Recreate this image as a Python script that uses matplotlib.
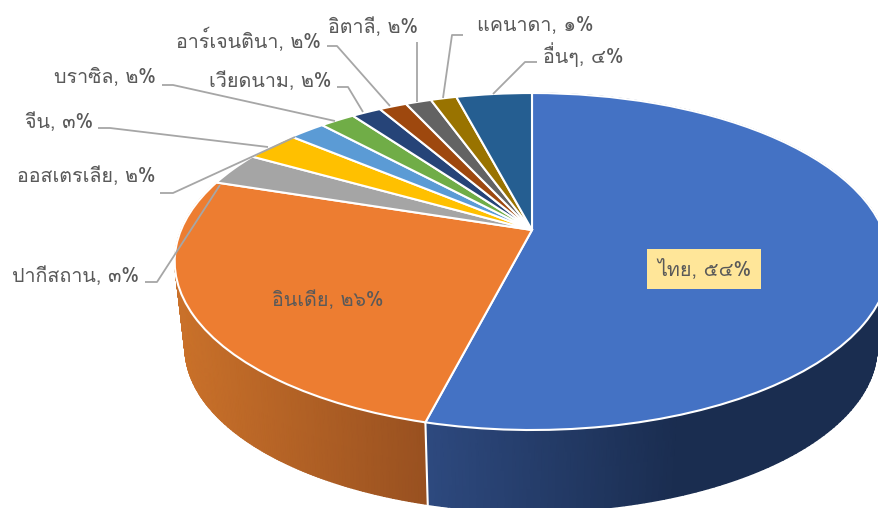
import numpy as np
import matplotlib
matplotlib.use("Agg")
import matplotlib.pyplot as plt
from matplotlib import font_manager as fm
from matplotlib.transforms import Transform
from matplotlib.colors import LinearSegmentedColormap
from matplotlib.ft2font import FT2Font

# ---- data ----
categories = ["ไทย", "อินเดีย", "ปากีสถาน", "ออสเตรเลีย", "จีน", "บราซิล",
              "เวียดนาม", "อาร์เจนตินา", "อิตาลี", "แคนาดา", "อื่นๆ"]
percent_labels = ["๕๔%", "๒๖%", "๓%", "๒%", "๓%", "๒%", "๒%", "๒%", "๒%", "๑%", "๔%"]
values = [54.0, 26.0, 3.2, 2.9, 2.0, 1.9, 1.6, 1.5, 1.4, 1.4, 4.1]
colors = ["#4472C4", "#ED7D31", "#A5A5A5", "#FFC000", "#5B9BD5", "#70AD47",
          "#264478", "#9E480E", "#636363", "#997300", "#255E91"]

# ---- find a Thai-capable font if any ----
thai_family = None
for f in fm.fontManager.ttflist:
    try:
        if 0x0E44 in FT2Font(f.fname).get_charmap():
            thai_family = f.name
            break
    except Exception:
        pass
families = ([thai_family] if thai_family else []) + ["Noto Sans", "DejaVu Sans"]
plt.rcParams["font.family"] = families

W, H = 879, 508
fig = plt.figure(figsize=(W / 100, H / 100), dpi=100)
ax = fig.add_axes([0, 0, 1, 1])


class Persp(Transform):
    """Perspective view of the unit disc, in pixel coordinates."""
    input_dims = output_dims = 2

    def __init__(self, cx, cy, rx, ry, k):
        super().__init__()
        self.p = (cx, cy, rx, ry, k)

    def transform_non_affine(self, xy):
        cx, cy, rx, ry, k = self.p
        xy = np.asarray(xy, float)
        w = 1 + k * xy[:, 1]
        return np.column_stack([cx + rx * xy[:, 0] / w, cy - ry * xy[:, 1] / w])


top = Persp(532, 230, 351, 162.6, 0.187)
bottom = Persp(531, 317, 340, 158.5, 0.187)

wedges, _ = ax.pie(values, startangle=90, counterclock=False, radius=1,
                   colors=colors,
                   wedgeprops=dict(edgecolor="white", linewidth=1.5, zorder=5))
for w in wedges:
    w.set_transform(top + ax.transData)

ax.set_aspect("auto")
ax.set_xlim(0, W)
ax.set_ylim(H, 0)
ax.axis("off")

# ---- side walls of the two large slices ----
fractions = np.cumsum([0] + values) / sum(values)
wall_cmaps = [
    LinearSegmentedColormap.from_list("b", [(0, "#2E4A80"), (0.55, "#1A2D50"), (1, "#1A2D50")]),
    LinearSegmentedColormap.from_list("o", [(0, "#CB722A"), (1, "#985020")]),
]
wall_range = [(420, 890), (175, 430)]
for i in range(2):
    t = 2 * np.pi * np.linspace(fractions[i], fractions[i + 1], 200)
    disc = np.column_stack([np.sin(t), np.cos(t)])
    a = top.transform(disc)
    b = bottom.transform(disc)
    X = np.vstack([a[:, 0], b[:, 0]])
    Y = np.vstack([a[:, 1], b[:, 1]])
    lo, hi = wall_range[i]
    ax.pcolormesh(X, Y, X, shading="gouraud", cmap=wall_cmaps[i],
                  vmin=lo, vmax=hi, zorder=2)
    if i == 0:
        # seam between the two walls
        ax.plot(X[:, -1], Y[:, -1], color="white", lw=1.5, zorder=3)

# ---- labels ----
txt = "#595959"
fs = 14.2
layout = {  # anchor x, y, ha
    0: (704, 269, "center"), 1: (328, 300, "center"),
    2: (139, 276, "right"), 3: (156, 176, "right"), 4: (93, 122, "right"),
    5: (156, 78, "right"), 6: (331, 81, "right"), 7: (321, 40, "right"),
    8: (418, 27, "right"), 9: (594, 25, "right"), 10: (624, 55, "right"),
}
leaders = {
    2: [(145, 282), (157, 282), (220, 185)],
    3: [(160, 193), (173, 193), (295, 137)],
    4: [(98, 128), (110, 128), (268, 147)],
    5: [(162, 85), (173, 85), (335, 121)],
    6: [(337, 87), (348, 87), (363, 112)],
    7: [(327, 46), (337, 46), (390, 106)],
    8: [(417, 42), (417, 102)],
    9: [(463, 35), (452, 35), (443, 98)],
    10: [(537, 62), (525, 62), (493, 94)],
}
for i, (c, p) in enumerate(zip(categories, percent_labels)):
    x, y, ha = layout[i]
    kw = {}
    if i == 0:
        kw["bbox"] = dict(boxstyle="square,pad=0.5", fc="#FFE699", ec="none")
    ax.text(x, y, f"{c}, {p}", ha=ha, va="center", fontsize=fs, color=txt, zorder=8, **kw)
for pts in leaders.values():
    xs, ys = zip(*pts)
    ax.plot(xs, ys, color="#A6A6A6", lw=1.3, zorder=6, solid_capstyle="butt")

fig.savefig("out.png", dpi=100, facecolor="white")
